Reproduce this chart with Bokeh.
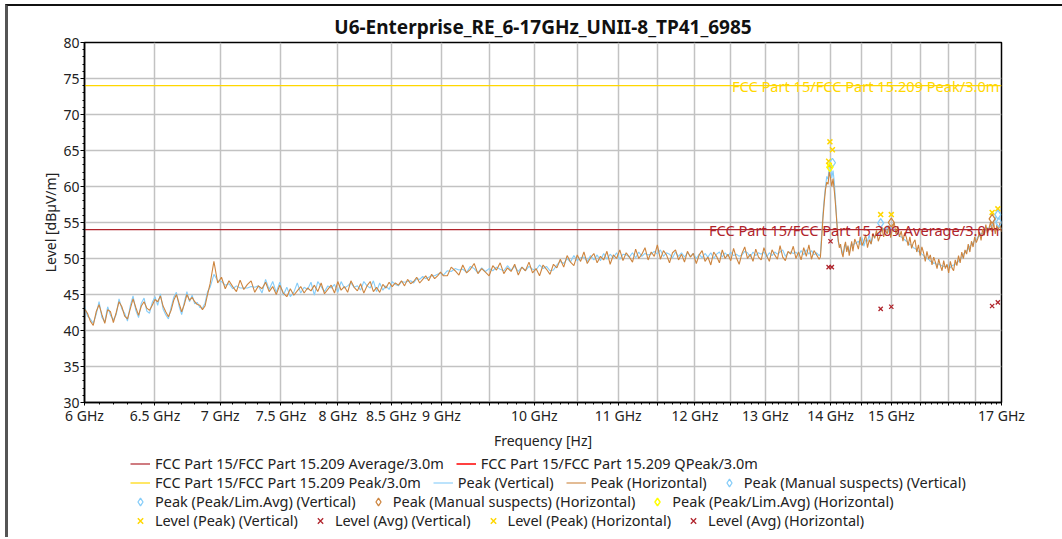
import numpy as np
from bokeh.plotting import figure
from bokeh.layouts import column
from bokeh.models import (Range1d, FixedTicker, CustomJSTickFormatter, Legend,
                          LegendItem, Label)
from bokeh.embed import file_html
from bokeh.resources import INLINE

FONT = "Noto Sans"

TITLE = "U6-Enterprise_RE_6-17GHz_UNII-8_TP41_6985"
X_LABEL = "Frequency [Hz]"
Y_LABEL = "Level [dB\u00b5V/m]"

# ---- ticks -----------------------------------------------------------
x_grid_values = [6.0, 6.5, 7.0, 7.5, 8.0, 8.5, 9.0, 9.5, 10.0, 10.5, 11.0, 11.5,
                 12.0, 12.5, 13.0, 13.5, 14.0, 14.5, 15.0, 15.5, 16.0, 16.5, 17.0]
x_label_values = [6.0, 6.5, 7.0, 7.5, 8.0, 8.5, 9.0, 10.0, 11.0, 12.0, 13.0, 14.0, 15.0, 17.0]
x_label_texts = ["6 GHz", "6.5 GHz", "7 GHz", "7.5 GHz", "8 GHz", "8.5 GHz", "9 GHz",
                 "10 GHz", "11 GHz", "12 GHz", "13 GHz", "14 GHz", "15 GHz", "17 GHz"]
y_tick_values = [30, 35, 40, 45, 50, 55, 60, 65, 70, 75, 80]

# ---- sweep segments (start GHz, step GHz) -----------------------------
seg_start = [6.00, 6.92, 9.06, 13.84, 14.36]
seg_step = [0.02, 0.03, 0.04, 0.02, 0.03]

# Peak (Horizontal) trace, dBuV/m
horiz_1 = [43.0, 42.4, 41.3, 40.7, 42.6, 43.6, 42.2, 41.0, 42.9, 42.6,
           41.1, 42.5, 44.0, 43.3, 42.0, 41.6, 43.0, 44.4, 43.2, 42.1,
           43.4, 44.0, 43.1, 42.8, 43.5, 44.3, 44.0, 44.8, 43.4, 42.6,
           41.9, 42.8, 44.2, 45.0, 43.8, 42.6, 43.6, 45.0, 44.2, 44.6,
           44.0, 43.6, 43.5, 42.9, 43.4, 45.0]
horiz_2 = [46.5, 49.6, 46.6, 47.4, 45.8, 46.9, 46.1, 45.4, 47.0, 45.7,
           46.4, 46.9, 45.3, 46.2, 45.8, 46.7, 45.4, 46.1, 45.0, 46.3,
           45.2, 44.7, 45.8, 44.9, 45.5, 46.1, 45.2, 45.9, 45.5, 46.3,
           45.4, 46.6, 45.1, 45.7, 46.3, 45.2, 46.8, 45.6, 46.1, 45.3,
           46.9, 46.0, 45.5, 46.5, 45.2, 46.2, 46.8, 45.4, 46.0, 45.3,
           46.4, 45.9, 46.7, 46.1, 46.6, 46.3, 46.9, 46.2, 47.1, 46.5,
           46.8, 47.4, 46.6, 47.1, 47.6, 46.9, 47.8, 47.2, 47.6, 48.1,
           47.6]
horiz_3 = [47.6, 48.8, 48.3, 47.7, 49.1, 48.0, 48.5, 49.3, 47.9, 48.6,
           48.1, 47.6, 49.0, 48.4, 49.4, 47.9, 48.7, 48.2, 49.2, 47.7,
           48.8, 48.3, 49.5, 48.0, 48.6, 47.6, 49.1, 48.5, 47.8, 49.2,
           48.7, 49.9, 48.8, 50.4, 49.5, 49.0, 50.5, 49.6, 50.9, 49.3,
           50.1, 50.7, 49.4, 50.3, 49.8, 51.0, 49.2, 50.5, 50.0, 51.2,
           49.7, 50.8, 50.2, 49.5, 51.3, 50.0, 50.6, 51.5, 49.8, 50.9,
           50.3, 51.9, 49.9, 51.1, 50.5, 49.4, 50.8, 51.2, 49.8, 50.6,
           49.5, 51.0, 50.2, 50.7, 49.3, 50.5, 51.1, 49.6, 50.2, 49.1,
           50.9, 50.3, 49.4, 51.2, 50.0, 50.6, 49.7, 51.4, 50.1, 49.2,
           50.7, 51.6, 50.0, 50.6, 49.6, 51.3, 50.2, 49.8, 51.5, 50.4,
           49.6, 51.2, 50.5, 49.9, 51.8, 50.2, 49.7, 51.0, 50.6, 51.7,
           50.0, 50.9, 49.8, 51.5, 50.3, 51.9, 49.9, 51.1, 50.5, 49.9]
horiz_4 = [50.2, 52.8, 55.6, 57.8, 59.6, 60.6, 60.3, 62.0, 61.2, 60.0,
           61.1, 59.4, 57.4, 55.0, 52.8, 51.5, 52.0, 50.8, 50.2, 51.6,
           52.3, 50.9, 51.8, 50.4, 51.3, 52.4]
horiz_5 = [51.0, 52.7, 52.1, 51.3, 53.0, 51.8, 52.4, 53.3, 51.5, 52.6,
           52.0, 53.5, 52.8, 53.9, 52.4, 53.1, 54.4, 53.0, 54.0, 53.4,
           54.6, 52.9, 54.2, 55.0, 53.4, 54.5, 53.0, 53.8, 52.4, 53.6,
           52.9, 51.8, 53.0, 51.4, 52.2, 52.6, 50.9, 51.9, 50.4, 51.6,
           50.8, 49.6, 51.0, 49.9, 50.5, 49.1, 50.2, 49.5, 48.6, 49.9,
           49.0, 48.3, 49.7, 48.6, 49.2, 48.0, 49.6, 48.7, 48.3, 49.8,
           49.0, 50.4, 49.4, 50.9, 50.0, 51.2, 50.6, 52.0, 50.9, 52.4,
           51.6, 53.0, 52.2, 52.8, 53.7, 52.5, 54.1, 53.2, 54.7, 53.5,
           54.2, 55.1, 53.7, 55.0, 53.4, 54.6, 53.9, 54.9, 53.7]

# Peak (Vertical) trace, dBuV/m
vert_1 = [43.4, 42.0, 41.6, 41.0, 42.2, 44.0, 41.8, 41.2, 43.3, 42.1,
          41.5, 42.2, 44.4, 43.0, 42.4, 41.3, 43.4, 44.8, 42.8, 41.8,
          43.8, 44.5, 42.7, 42.4, 43.9, 44.7, 43.5, 45.1, 43.0, 42.2,
          41.6, 43.2, 44.6, 45.3, 43.4, 42.2, 43.9, 45.4, 44.0, 44.9,
          43.7, 43.9, 43.2, 43.1, 43.8, 45.4]
vert_2 = [46.0, 47.8, 46.9, 46.8, 46.3, 46.5, 45.8, 46.2, 45.9, 45.9,
          45.9, 46.1, 46.0, 46.2, 45.2, 47.1, 45.7, 46.8, 45.3, 46.7,
          44.9, 46.0, 44.7, 45.3, 46.6, 45.2, 46.0, 45.7, 46.7, 44.9,
          46.8, 46.1, 45.4, 46.2, 45.9, 46.4, 45.3, 46.8, 45.9, 46.2,
          46.6, 46.0, 46.2, 45.6, 46.8, 46.2, 45.9, 46.9, 45.4, 46.6,
          45.6, 46.2, 45.7, 46.8, 46.4, 46.2, 46.8, 46.7, 46.8, 46.9,
          46.6, 47.2, 47.1, 47.5, 47.2, 47.4, 47.6, 47.6, 47.8, 48.0,
          47.7]
vert_3 = [48.3, 48.2, 48.6, 48.4, 48.5, 48.1, 48.9, 48.6, 48.0, 48.7,
          48.2, 48.6, 48.3, 48.8, 48.5, 48.3, 49.0, 48.4, 48.9, 48.2,
          48.8, 48.3, 48.9, 48.5, 48.4, 49.1, 48.6, 48.9, 48.3, 48.4,
          49.1, 49.6, 49.3, 50.0, 49.5, 50.4, 49.7, 50.1, 50.2, 49.6,
          50.4, 49.8, 50.5, 49.7, 50.7, 49.9, 50.6, 50.1, 50.8, 49.9,
          50.6, 50.5, 50.2, 50.8, 50.1, 50.9, 50.3, 50.7, 50.5, 50.6,
          51.0, 50.6, 51.2, 50.3, 50.8, 50.6, 50.1, 50.9, 50.3, 50.8,
          50.2, 50.8, 50.3, 50.7, 50.0, 50.6, 50.1, 50.7, 50.2, 50.8,
          50.0, 50.6, 50.9, 50.2, 50.8, 50.3, 50.9, 50.4, 50.6, 50.3,
          50.5, 51.0, 50.8, 50.2, 50.9, 50.4, 50.8, 50.6, 50.9, 50.2,
          50.8, 50.4, 50.9, 50.6, 50.9, 51.2, 50.3, 50.8, 50.9, 50.7,
          50.9, 50.4, 51.1, 50.5, 51.2, 50.6, 51.1, 50.5, 50.8, 50.4]
vert_4 = [50.6, 53.5, 56.2, 58.3, 60.0, 61.4, 61.0, 62.8, 63.0, 61.2,
          62.2, 60.6, 58.0, 55.2, 52.4, 51.9, 51.6, 51.2, 50.6, 51.2,
          52.0, 51.2, 51.6, 50.8, 51.6, 52.1]
vert_5 = [51.8, 52.1, 52.2, 52.4, 51.9, 52.9, 51.7, 52.6, 52.4, 53.3,
          52.0, 53.1, 53.0, 53.5, 53.3, 53.7, 53.8, 54.2, 53.7, 54.6,
          53.6, 54.4, 54.0, 54.0, 53.6, 53.5, 53.1, 53.0, 52.8, 52.6,
          52.4, 52.2, 51.9, 51.9, 51.5, 51.4, 51.2, 51.0, 50.8, 50.6,
          50.4, 50.2, 50.0, 49.9, 49.6, 49.6, 49.3, 49.4, 49.0, 49.3,
          49.1, 49.0, 48.9, 48.9, 48.9, 49.1, 48.7, 49.0, 49.1, 49.2,
          49.4, 49.6, 50.0, 50.1, 50.6, 50.8, 51.1, 51.3, 51.7, 51.9,
          52.2, 52.5, 52.6, 53.0, 53.1, 53.5, 53.4, 53.9, 53.9, 54.3,
          54.1, 54.5, 54.6, 55.0, 55.8, 54.3, 54.2, 54.5, 54.1]

# ---- limit lines ------------------------------------------------------
limit_freq = [6.0, 17.0]
avg_limit = [54.0, 54.0]
peak_limit = [74.0, 74.0]
avg_limit_name = "FCC Part 15/FCC Part 15.209 Average/3.0m"
qpeak_limit_name = "FCC Part 15/FCC Part 15.209 QPeak/3.0m"
peak_limit_name = "FCC Part 15/FCC Part 15.209 Peak/3.0m"

# ---- markers ----------------------------------------------------------
lvl_peak_v_f = [13.99, 14.03, 16.93]
lvl_peak_v_y = [66.2, 65.1, 56.9]
lvl_peak_h_f = [13.97, 13.98, 14.82, 15.00, 16.82]
lvl_peak_h_y = [63.5, 62.9, 56.1, 56.1, 56.4]
lvl_avg_v_f = [14.00, 14.82, 16.82]
lvl_avg_v_y = [52.4, 43.0, 43.4]
lvl_avg_h_f = [13.97, 14.02, 15.00, 16.93]
lvl_avg_h_y = [48.8, 48.8, 43.3, 43.9]
pk_lim_v_f = [14.03, 16.93]
pk_lim_v_y = [63.3, 56.1]
pk_man_v_f = [14.82, 16.95]
pk_man_v_y = [54.9, 55.0]
pk_man_h_f = [15.00, 16.82]
pk_man_h_y = [55.0, 55.5]
pk_lim_h_f = [13.99]
pk_lim_h_y = [62.7]


def sweep(segments):
    f, v = [], []
    for start, step, vals in zip(seg_start, seg_step, segments):
        f.extend(start + step * np.arange(len(vals)))
        v.extend(vals)
    return f, v


hf, hv = sweep([horiz_1, horiz_2, horiz_3, horiz_4, horiz_5])
vf, vv = sweep([vert_1, vert_2, vert_3, vert_4, vert_5])

C_VERT = "#86CDF9"
C_HORZ = "#CD853F"
C_AVG = "#B0242C"
C_QP = "#FF0000"
C_PK = "#FFD700"
C_DIA_H = "#FFFF00"

LINE_STYLE = {
    "avg": dict(line_color=C_AVG, line_width=1.2),
    "qp": dict(line_color=C_QP, line_width=1.5),
    "pk": dict(line_color=C_PK, line_width=1.2),
    "vert": dict(line_color=C_VERT, line_width=1.1),
    "horz": dict(line_color=C_HORZ, line_width=1.1),
}
MARK_STYLE = {
    "lpv": dict(marker="x", size=7, line_color=C_PK, line_width=1.5),
    "lav": dict(marker="x", size=6, line_color=C_AVG, line_width=1.3),
    "lph": dict(marker="x", size=7, line_color=C_PK, line_width=1.5),
    "lah": dict(marker="x", size=6, line_color=C_AVG, line_width=1.3),
    "plv": dict(marker="diamond", size=9, fill_alpha=0, line_color=C_VERT, line_width=1.3),
    "pmv": dict(marker="diamond", size=9, fill_alpha=0, line_color=C_VERT, line_width=1.3),
    "pmh": dict(marker="diamond", size=9, fill_alpha=0, line_color=C_HORZ, line_width=1.3),
    "plh": dict(marker="diamond", size=9, fill_alpha=0, line_color=C_DIA_H, line_width=1.5),
}

W = 1054
p = figure(width=W, height=446, x_axis_type="log", output_backend="svg",
           toolbar_location=None, x_range=Range1d(6.0, 17.0), y_range=Range1d(30, 80),
           min_border_left=76, min_border_right=61, min_border_top=36,
           min_border_bottom=50, title=TITLE)

p.title.align = "center"
p.title.text_font = FONT
p.title.text_font_size = "19px"
p.title.text_font_style = "bold"
p.title.text_color = "#111111"
p.title.standoff = 5

p.outline_line_color = "#000000"
p.outline_line_width = 1.5
p.background_fill_color = "white"
p.border_fill_color = "white"

# axes
p.xaxis.ticker = FixedTicker(ticks=x_grid_values,
                             minor_ticks=[round(6.0 + 0.1 * i, 1) for i in range(111)])
p.xaxis.formatter = CustomJSTickFormatter(
    args=dict(vals=x_label_values, labs=x_label_texts),
    code="""
    for (let i = 0; i < vals.length; i++) {
        if (Math.abs(vals[i] - tick) < 1e-6) return labs[i];
    }
    return "";
    """)
p.yaxis.ticker = FixedTicker(ticks=y_tick_values, minor_ticks=list(range(30, 81)))

for ax in (p.xaxis[0], p.yaxis[0]):
    ax.axis_line_color = "#000000"
    ax.axis_line_width = 1.5
    ax.major_tick_line_color = "#000000"
    ax.minor_tick_line_color = "#000000"
    ax.major_label_text_font = FONT
    ax.major_label_text_font_size = "14px"
    ax.major_label_text_color = "#222222"
    ax.axis_label_text_font = FONT
    ax.axis_label_text_font_size = "14px"
    ax.axis_label_text_font_style = "normal"
    ax.axis_label_text_color = "#222222"
    ax.major_tick_in = 0
    ax.minor_tick_in = 0

p.xaxis.axis_label = X_LABEL
p.yaxis.axis_label = Y_LABEL
p.xaxis.major_tick_out = 3
p.xaxis.minor_tick_out = 2
p.xaxis.major_label_standoff = 0
p.xaxis.axis_label_standoff = 3
p.yaxis.major_tick_out = 4
p.yaxis.minor_tick_out = 2
p.yaxis.major_label_standoff = 1
p.yaxis.axis_label_standoff = 0

p.xgrid.ticker = FixedTicker(ticks=x_grid_values)
p.ygrid.ticker = FixedTicker(ticks=y_tick_values)
for g in (p.xgrid[0], p.ygrid[0]):
    g.grid_line_color = "#c2c2c2"
    g.grid_line_width = 1.5

# limit lines
p.line(limit_freq, avg_limit, **LINE_STYLE["avg"])
p.line(limit_freq, peak_limit, **LINE_STYLE["pk"])

# traces
p.line(vf, vv, **LINE_STYLE["vert"])
p.line(hf, hv, **LINE_STYLE["horz"])

# limit labels
p.add_layout(Label(x=limit_freq[-1], y=peak_limit[-1], text=peak_limit_name,
                   text_align="right", text_baseline="middle", x_offset=-2,
                   text_font=FONT, text_font_size="14.6px", text_color=C_PK))
p.add_layout(Label(x=limit_freq[-1], y=avg_limit[-1], text=avg_limit_name,
                   text_align="right", text_baseline="middle", x_offset=-2,
                   text_font=FONT, text_font_size="14.6px", text_color=C_AVG))

# markers
p.scatter(lvl_peak_v_f, lvl_peak_v_y, **MARK_STYLE["lpv"])
p.scatter(lvl_avg_v_f, lvl_avg_v_y, **MARK_STYLE["lav"])
p.scatter(lvl_peak_h_f, lvl_peak_h_y, **MARK_STYLE["lph"])
p.scatter(lvl_avg_h_f, lvl_avg_h_y, **MARK_STYLE["lah"])
p.scatter(pk_lim_v_f, pk_lim_v_y, **MARK_STYLE["plv"])
p.scatter(pk_man_v_f, pk_man_v_y, **MARK_STYLE["pmv"])
p.scatter(pk_man_h_f, pk_man_h_y, **MARK_STYLE["pmh"])
p.scatter(pk_lim_h_f, pk_lim_h_y, **MARK_STYLE["plh"])

# ---- legend strip (second figure, same styles as the chart) ----------
LH = 85
lf = figure(width=W, height=LH, output_backend="svg", toolbar_location=None,
            x_range=Range1d(0, 1), y_range=Range1d(0, 1),
            x_axis_location=None, y_axis_location=None,
            min_border=0, min_border_left=0, min_border_right=0,
            min_border_top=0, min_border_bottom=0)
lf.grid.visible = False
lf.outline_line_color = None
lf.background_fill_color = "white"
lf.border_fill_color = "white"

NO_DATA = [np.nan]


def lline(key):
    return lf.line(NO_DATA, NO_DATA, **LINE_STYLE[key])


def lmark(key):
    return lf.scatter(NO_DATA, NO_DATA, **MARK_STYLE[key])


rows = [
    [(avg_limit_name, lline("avg")), (qpeak_limit_name, lline("qp"))],
    [(peak_limit_name, lline("pk")), ("Peak (Vertical)", lline("vert")),
     ("Peak (Horizontal)", lline("horz")),
     ("Peak (Manual suspects) (Vertical)", lmark("pmv"))],
    [("Peak (Peak/Lim.Avg) (Vertical)", lmark("plv")),
     ("Peak (Manual suspects) (Horizontal)", lmark("pmh")),
     ("Peak (Peak/Lim.Avg) (Horizontal)", lmark("plh"))],
    [("Level (Peak) (Vertical)", lmark("lpv")), ("Level (Avg) (Vertical)", lmark("lav")),
     ("Level (Peak) (Horizontal)", lmark("lph")), ("Level (Avg) (Horizontal)", lmark("lah"))],
]
row_bottom = [64, 45, 26, 7]
for items, yb in zip(rows, row_bottom):
    lg = Legend(items=[LegendItem(label=t, renderers=[r]) for t, r in items],
                orientation="horizontal", location=(46, yb),
                label_text_font=FONT, label_text_font_size="14.5px",
                label_text_color="#222222", spacing=12, padding=0, margin=0,
                glyph_width=20, glyph_height=19, label_height=19, label_standoff=5,
                border_line_alpha=0, background_fill_alpha=0)
    lf.add_layout(lg)

layout = column(p, lf, spacing=0)
layout.styles = {"margin-left": "5px", "margin-top": "4px",
                 "border-top": "2px solid #111111", "border-left": "3px solid #555555"}

open("out.html", "w").write(file_html(layout, INLINE))
